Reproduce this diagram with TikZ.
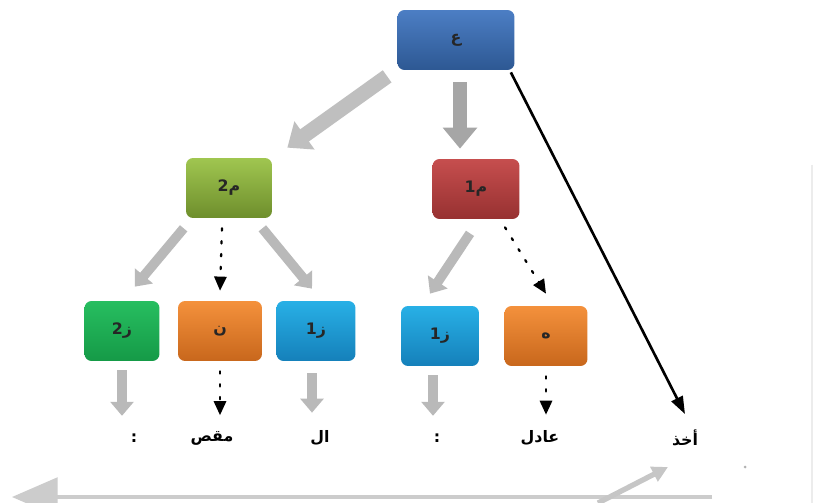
\documentclass[tikz,border=0pt]{standalone}
\usepackage{fontspec}
\newfontfamily\arabicfont[Script=Arabic]{DejaVu Sans}
\TeXXeTstate=1
\usetikzlibrary{arrows.meta}
\newcommand{\arb}[1]{{\arabicfont\bfseries\beginR #1\endR}}
\definecolor{topA}{HTML}{4C7EC4}\definecolor{topB}{HTML}{2D5893}
\definecolor{oliveA}{HTML}{A0C650}\definecolor{oliveB}{HTML}{6E8E2C}
\definecolor{redA}{HTML}{C64E4E}\definecolor{redB}{HTML}{973131}
\definecolor{grnA}{HTML}{27BE60}\definecolor{grnB}{HTML}{159A47}
\definecolor{orA}{HTML}{F4913C}\definecolor{orB}{HTML}{C8671C}
\definecolor{cyA}{HTML}{28B0E6}\definecolor{cyB}{HTML}{1580BA}
\tikzset{
  box/.style={rounded corners=4pt, minimum height=1.2cm, font=\small, text=black!85},
  fat/.style={draw=gray!50, line width=8.5pt, -{Triangle[width=19pt,length=12pt]}},
  thin fat/.style={draw=gray!55, line width=5.5pt, -{Triangle[width=13pt,length=8pt]}},
  dotarrow/.style={black, line width=1.3pt, dash pattern=on 1.3pt off 6pt, line cap=round,
    -{Triangle[width=7pt,length=8pt]}},
  word/.style={font=\small, inner sep=2pt}
}
\begin{document}
\begin{tikzpicture}[x=0.02cm,y=-0.02cm]
\useasboundingbox (0,0) rectangle (815,503);
\fill[white] (0,0) rectangle (815,503);
% boxes
\node[box, minimum width=2.34cm, top color=topA, bottom color=topB] (top) at (456,40) {\arb{ع}};
\node[box, minimum width=1.72cm, top color=oliveA, bottom color=oliveB] (m2) at (229,188) {\arb{م2}};
\node[box, minimum width=1.74cm, top color=redA, bottom color=redB] (m1) at (476,189) {\arb{م1}};
\node[box, minimum width=1.5cm, top color=grnA, bottom color=grnB] (z2) at (122,331) {\arb{ز2}};
\node[box, minimum width=1.68cm, top color=orA, bottom color=orB] (n) at (220,331) {\arb{ن}};
\node[box, minimum width=1.58cm, top color=cyA, bottom color=cyB] (z1) at (316,331) {\arb{ز1}};
\node[box, minimum width=1.56cm, top color=cyA, bottom color=cyB] (z1b) at (440,336) {\arb{ز1}};
\node[box, minimum width=1.66cm, top color=orA, bottom color=orB] (h) at (546,336) {\arb{ه}};
% words
\node[word] (w1) at (134,438) {\arb{:}};
\node[word] (w2) at (212,438) {\arb{مقص}};
\node[word] (w3) at (320,438) {\arb{ال}};
\node[word] (w4) at (437,438) {\arb{:}};
\node[word] (w5) at (540,438) {\arb{عادل}};
\node[word] (w6) at (685,438) {\arb{أخذ}};
% top level
\draw[fat] ([shift={(-10,6)}]top.south west) -- ([shift={(15,-10)}]m2.north east);
\draw[fat, draw=gray!70] ([shift={(4,12)}]top.south) -- ([shift={(-16,-10)}]m1.north);
\draw[black, line width=1.5pt, -{Triangle[width=7pt,length=10pt]}] ([shift={(-4,2)}]top.south east) -- ([shift={(0,-12)}]w6.north);
% m2
\draw[thin fat] ([shift={(-2,10)}]m2.south west) -- ([shift={(-25,-14)}]z2.north east);
\draw[dotarrow] ([shift={(-7,10)}]m2.south) -- ([shift={(0,-10)}]n.north);
\draw[thin fat] ([shift={(-10,10)}]m2.south east) -- ([shift={(-4,-12)}]z1.north);
% m1
\draw[thin fat] ([shift={(-6,14)}]m1.south) -- ([shift={(-10,-12)}]z1b.north);
\draw[dotarrow] ([shift={(29,8)}]m1.south) -- ([shift={(0,-12)}]h.north);
% leaves
\draw[thin fat] ([shift={(0,9)}]z2.south) -- ([shift={(0,-14)}]z2.south |- w1.north);
\draw[dotarrow] ([shift={(0,10)}]n.south) -- ([shift={(0,-12)}]n.south |- w2.north);
\draw[thin fat] ([shift={(-4,12)}]z1.south) -- ([shift={(-4,-14)}]z1.south |- w3.north);
\draw[thin fat] ([shift={(-7,9)}]z1b.south) -- ([shift={(-7,-14)}]z1b.south |- w4.north);
\draw[dotarrow] ([shift={(0,10)}]h.south) -- ([shift={(0,-12)}]h.south |- w5.north);
% cut-off bits at the edges
\coordinate (bl) at (12,497);
\coordinate (br) at (712,497);
\coordinate (ga) at (598,503);
\coordinate (gb) at (668,467);
\draw[gray!40, line width=2pt, -{Triangle[width=22pt,length=26pt]}] (br) -- (bl);
\draw[gray!45, line width=3pt, -{Triangle[width=9pt,length=9pt]}] (ga) -- (gb);
\fill[gray!60] (745,467) circle (1.5);
\draw[gray!15, line width=1pt] (812,165) -- (812,503);
\end{tikzpicture}
\end{document}
